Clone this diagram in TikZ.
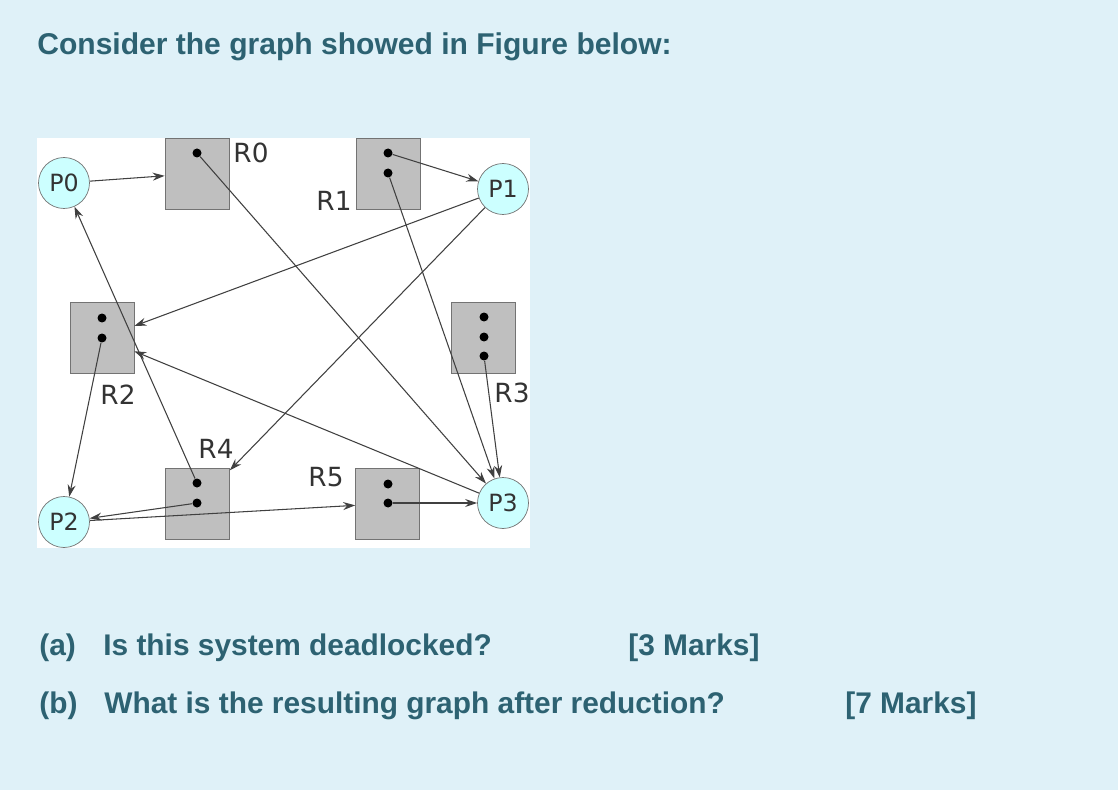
\documentclass[tikz,border=0pt]{standalone}
\usepackage{fontspec}
\setmainfont{Liberation Sans}
\newfontfamily\figfont{DejaVu Sans}
\usetikzlibrary{arrows.meta,positioning}
\definecolor{pagebg}{RGB}{223,241,248}
\definecolor{qtext}{RGB}{45,98,114}
\definecolor{procfill}{RGB}{204,255,255}
\definecolor{resfill}{RGB}{191,191,191}

\begin{document}
\begin{tikzpicture}[x=0.02cm, y=-0.02cm,
  every node/.style={inner sep=0pt},
  proc/.style={circle, draw=black!55, fill=procfill, minimum size=1.02cm, font=\figfont\fontsize{13.5}{15}\selectfont, text=black!80},
  res/.style={draw=black!55, fill=resfill, minimum width=1.28cm, minimum height=1.42cm},
  inst/.style={circle, fill=black, minimum size=0.18cm},
  rlabel/.style={font=\figfont\fontsize{15}{17}\selectfont, text=black!80},
  qtxt/.style={anchor=base west, text=qtext, font=\bfseries\fontsize{17}{20}\selectfont},
  flow/.style={-{Stealth[length=2.4mm,width=1.6mm]}, draw=black!75, line width=0.6pt}
]
\fill[pagebg] (0,0) rectangle (1118,790);
\useasboundingbox (0,0) rectangle (1118,790);
% Heading
\node[qtxt, font=\bfseries\fontsize{17.1}{20}\selectfont] (title) at (37,55) {Consider the graph showed in Figure below:};
% Figure panel
\fill[white] (37,138) rectangle (530,548);
% Processes
\node[proc] (p0) at (64,183) {P0};
\node[proc] (p1) at (503,189) {P1};
\node[proc] (p2) at (64,522) {P2};
\node[proc] (p3) at (503,503) {P3};
% Resources
\node[res] (r0) at (197,173.5) {};
\node[res] (r1) at (388,173.5) {};
\node[res] (r2) at (102,338) {};
\node[res] (r3) at (483.5,338) {};
\node[res] (r4) at (197.5,503.5) {};
\node[res] (r5) at (387.5,503.5) {};
% Instances
\node[inst] (r0a) at (197,153) {};
\node[inst] (r1a) at (388,153) {};
\node[inst] (r1b) at (388,173) {};
\node[inst] (r2a) at (102,318) {};
\node[inst] (r2b) at (102,338) {};
\node[inst] (r3a) at (484,317) {};
\node[inst] (r3b) at (484,337) {};
\node[inst] (r3c) at (484,356) {};
\node[inst] (r4a) at (197,483) {};
\node[inst] (r4b) at (197,503) {};
\node[inst] (r5a) at (388,484) {};
\node[inst] (r5b) at (388,503) {};
% Resource labels
\node[rlabel] (lr0) at (251,153) {R0};
\node[rlabel] (lr1) at (334,201) {R1};
\node[rlabel] (lr2) at (118,395) {R2};
\node[rlabel] (lr3) at (512,393) {R3};
\node[rlabel] (lr4) at (216,449) {R4};
\node[rlabel] (lr5) at (326,477) {R5};
% Requests and assignments
\draw[flow] (p0) -- (r0);
\draw[flow] (r0a) -- (p3);
\draw[flow] (r1a) -- (p1);
\draw[flow] (r1b) -- (p3);
\draw[flow] (p1) -- (r2);
\draw[flow] (p1) -- (r4);
\draw[flow] (r2b) -- (p2);
\draw[flow] (r4a) -- (p0);
\draw[flow] (p3) -- (r2);
\draw[flow] (r3c) -- (p3);
\draw[flow] (r4b) -- (p2);
\draw[flow] (p2) -- (r5);
\draw[flow] (r5b) -- (p3);
% Questions
\node[qtxt] (qa) at (39,655) {(a)};
\node[qtxt] (qatext) at (103,655) {Is this system deadlocked?};
\node[qtxt] (qamarks) at (628,655) {[3 Marks]};
\node[qtxt] (qb) at (39,713) {(b)};
\node[qtxt] (qbtext) at (104,713) {What is the resulting graph after reduction?};
\node[qtxt] (qbmarks) at (845,713) {[7 Marks]};
\end{tikzpicture}
\end{document}
